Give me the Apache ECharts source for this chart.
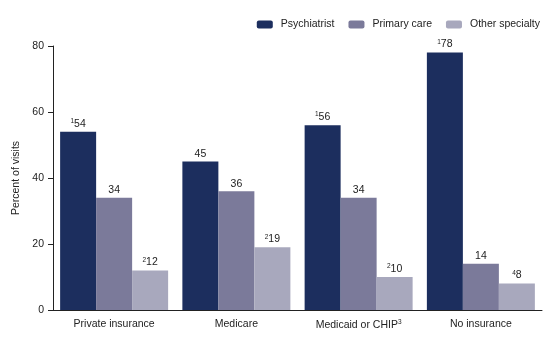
<!DOCTYPE html>
<html><head><meta charset="utf-8">
<script src="https://cdn.jsdelivr.net/npm/echarts@6/dist/echarts.min.js"></script>
<style>html,body{margin:0;padding:0;background:#fff}#c{width:560px;height:342px}</style>
</head><body><div id="c"></div>
<script>
const categories = ['Private insurance', 'Medicare', 'Medicaid or CHIP³', 'No insurance'];
const seriesNames = ['Psychiatrist', 'Primary care', 'Other specialty'];
const psychiatrist = [54, 45, 56, 78];
const primaryCare = [34, 36, 34, 14];
const otherSpecialty = [12, 19, 10, 8];
const psychNotes = ['1', '', '1', '1'];
const primaryNotes = ['', '', '', ''];
const otherNotes = ['2', '2', '2', '4'];
const colors = ['#1c2e5e', '#7b7a9a', '#a8a8bd'];
const font = 'Liberation Sans, Arial, sans-serif';
const fs = 10.5;

function mk(name, vals, notes, color) {
  return {
    name: name, type: 'bar', barGap: '0%', barWidth: 36,
    itemStyle: { color: color },
    data: vals.map((v, i) => ({ value: v, note: notes[i] })),
    label: {
      show: true, position: 'top', distance: 2,
      formatter: p => (p.data.note ? '{s|' + p.data.note + '}' : '') + '{v|' + p.value + '}',
      rich: {
        v: { fontSize: fs, color: '#222', fontFamily: font },
        s: { fontSize: 6.5, color: '#222', fontFamily: font, verticalAlign: 'top', padding: [0, 0, 5, 0] }
      }
    }
  };
}

const chart = echarts.init(document.getElementById('c'));
chart.setOption({
  animation: false,
  textStyle: { fontFamily: font },
  legend: {
    top: 14, right: 15, itemWidth: 16, itemHeight: 8, itemGap: 14,
    textStyle: { fontSize: fs, color: '#222', fontFamily: font, padding: [0, 0, 0, 3] },
    data: seriesNames
  },
  grid: { left: 53, right: 18, top: 46, bottom: 32 },
  xAxis: {
    type: 'category', data: categories,
    axisLine: { lineStyle: { color: '#222' } },
    axisTick: { show: false },
    axisLabel: { interval: 0, fontSize: fs, color: '#222', margin: 9, fontFamily: font,
      formatter: v => v.replace('³', '{s|3}'),
      rich: { s: { fontSize: 6.5, color: '#222', verticalAlign: 'top', padding: [0, 0, 5, 0] } } }
  },
  yAxis: {
    type: 'value', min: 0, max: 80, interval: 20,
    name: 'Percent of visits', nameLocation: 'middle', nameGap: 22,
    nameTextStyle: { fontSize: fs, color: '#222', fontFamily: font },
    axisLine: { show: true, lineStyle: { color: '#222' } },
    axisTick: { show: true, length: 5, lineStyle: { color: '#222' } },
    axisLabel: { fontSize: fs, color: '#222', margin: 9, fontFamily: font },
    splitLine: { show: false }
  },
  series: [
    mk(seriesNames[0], psychiatrist, psychNotes, colors[0]),
    mk(seriesNames[1], primaryCare, primaryNotes, colors[1]),
    mk(seriesNames[2], otherSpecialty, otherNotes, colors[2])
  ]
});
</script></body></html>
